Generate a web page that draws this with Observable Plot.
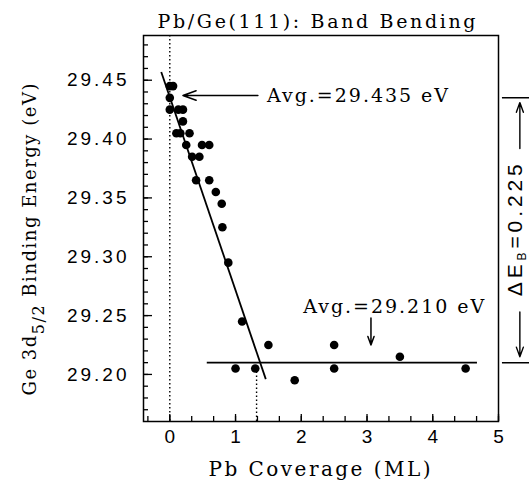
<!DOCTYPE html>
<html><head><meta charset="utf-8">
<script src="https://cdn.jsdelivr.net/npm/d3@7"></script>
<script src="https://cdn.jsdelivr.net/npm/@observablehq/plot@0.6"></script>
<style>
  body { margin: 0; background: #fff; }
  #chart svg { background: #fff; font-family: "DejaVu Serif", serif; }
</style>
</head><body><div id="chart"></div>
<script>
// ---- data ----
const coverage = [0.0, 0.05, 0.0, 0.0, 0.13, 0.2, 0.2, 0.1, 0.16, 0.3,
                  0.25, 0.49, 0.6, 0.34, 0.45, 0.4, 0.6, 0.7, 0.79, 0.8,
                  0.89, 1.1, 1.0, 1.3, 1.5, 1.9, 2.5, 2.5, 3.5, 4.5];
const bindingEnergy = [29.445, 29.445, 29.435, 29.425, 29.425, 29.425, 29.415, 29.405, 29.405, 29.405,
                       29.395, 29.395, 29.395, 29.385, 29.385, 29.365, 29.365, 29.355, 29.345, 29.325,
                       29.295, 29.245, 29.205, 29.205, 29.225, 29.195, 29.225, 29.205, 29.215, 29.205];

// linear fit through the band-bending region and the saturation average
const fitStart = [-0.13, 29.457];
const fitEnd = [1.46, 29.196];
const avgLow = 29.210;
const avgLowSpan = [0.57, 4.68];
const avgHigh = 29.435;
const crossingCoverage = 1.32;

// tick labels
const xTickLabels = [0, 1, 2, 3, 4, 5];
const yTickLabels = [29.20, 29.25, 29.30, 29.35, 29.40, 29.45];
const xMinorTicks = d3.range(-1, 16).map(i => i / 3);
const yMinorTicks = d3.range(2917, 2949).map(i => i / 100);

// texts
const titleText = "Pb/Ge(111): Band Bending";
const xLabel = "Pb Coverage (ML)";
const yLabel = "Ge 3d_{5/2} Binding Energy (eV)";
const noteHigh = "Avg.=29.435 eV";
const noteLow = "Avg.=29.210 eV";
const noteDelta = "ΔE_{B}=0.225";

// annotation anchors
const noteHighArrow = {x1: 1.34, y1: 29.437, x2: 0.2, y2: 29.437};
const noteHighText = {x: 1.48, y: 29.437};
const noteLowArrow = {x1: 3.06, y1: 29.248, x2: 3.06, y2: 29.225};
const noteLowText = {x: 2.03, y: 29.257};
const deltaArrowX = 5.325;
const deltaTextX = 5.25;
const deltaSpan = [5.06, 5.6];
const deltaArrows = [
  {x1: deltaArrowX, y1: 29.392, x2: deltaArrowX, y2: 29.431},
  {x1: deltaArrowX, y1: 29.253, x2: deltaArrowX, y2: 29.215}
];

// styling: target text widths (px) to mimic the monospaced plotter font
const textWidths = new Map([
  [titleText, 318], [xLabel, 222], [yLabel, 312], [noteHigh, 181], [noteLow, 181], [noteDelta, 132]
]);

const points = coverage.map((c, i) => ({c, e: bindingEnergy[i]}));

const chart = Plot.plot({
  width: 529,
  height: 480,
  marginLeft: 143,
  marginRight: 31,
  marginTop: 35,
  marginBottom: 59,
  x: {domain: [-0.4, 5]},
  y: {domain: [29.16, 29.488]},
  marks: [
    Plot.frame({stroke: "black", strokeWidth: 1.5}),
    // inward ticks
    Plot.axisY(yMinorTicks, {anchor: "left", tickSize: 5, dx: 5, tickFormat: () => "", label: null, strokeWidth: 1.3}),
    Plot.axisY(yTickLabels, {anchor: "left", tickSize: 9, dx: 9, tickFormat: () => "", label: null, strokeWidth: 1.3}),
    Plot.axisY(yTickLabels, {anchor: "left", tickSize: 0, tickPadding: 14, tickFormat: d3.format(".2f"),
      fontSize: 19, fontFamily: "Liberation Sans", label: null}),
    Plot.axisX(xMinorTicks, {anchor: "bottom", tickSize: 5, dy: -5, tickFormat: () => "", label: null, strokeWidth: 1.3}),
    Plot.axisX(xTickLabels, {anchor: "bottom", tickSize: 7, dy: -7, tickFormat: () => "", label: null, strokeWidth: 1.3}),
    Plot.axisX(xTickLabels, {anchor: "bottom", tickSize: 0, tickPadding: 8, tickFormat: d3.format("d"),
      fontSize: 19, fontFamily: "Liberation Sans", label: null}),
    // dotted guides
    Plot.ruleX([0], {stroke: "black", strokeWidth: 1.4, strokeDasharray: "1.4,2.6"}),
    Plot.ruleX([crossingCoverage], {y1: 29.16, y2: 29.205, stroke: "black", strokeWidth: 1.4, strokeDasharray: "1.4,2.6"}),
    // fit and average lines
    Plot.link([{x1: fitStart[0], y1: fitStart[1], x2: fitEnd[0], y2: fitEnd[1]}],
      {x1: "x1", y1: "y1", x2: "x2", y2: "y2", stroke: "black", strokeWidth: 1.8}),
    Plot.ruleY([avgLow], {x1: avgLowSpan[0], x2: avgLowSpan[1], stroke: "black", strokeWidth: 1.7}),
    // data
    Plot.dot(points, {x: "c", y: "e", r: 4.3, fill: "black", stroke: "none"}),
    // annotations
    Plot.arrow([noteHighArrow], {x1: "x1", y1: "y1", x2: "x2", y2: "y2", stroke: "black", strokeWidth: 1.5, headLength: 14, headAngle: 40}),
    Plot.text([noteHigh], {x: noteHighText.x, y: noteHighText.y, textAnchor: "start", lineAnchor: "middle", fontSize: 19}),
    Plot.arrow([noteLowArrow], {x1: "x1", y1: "y1", x2: "x2", y2: "y2", stroke: "black", strokeWidth: 1.5, headLength: 11, headAngle: 40}),
    Plot.text([noteLow], {x: noteLowText.x, y: noteLowText.y, textAnchor: "start", lineAnchor: "middle", fontSize: 19}),
    Plot.ruleY([avgHigh, avgLow], {x1: deltaSpan[0], x2: deltaSpan[1], stroke: "black", strokeWidth: 1.5}),
    Plot.arrow(deltaArrows, {x1: "x1", y1: "y1", x2: "x2", y2: "y2", stroke: "black", strokeWidth: 1.4, headLength: 11, headAngle: 40}),
    Plot.text([noteDelta], {x: deltaTextX, y: (avgHigh + avgLow) / 2, rotate: -90, textAnchor: "middle", lineAnchor: "middle",
      fontSize: 21, fontFamily: "Liberation Sans"}),
    // title and axis labels
    Plot.text([titleText], {frameAnchor: "top", dy: -8, dx: -4.5, lineAnchor: "bottom", fontSize: 19}),
    Plot.text([xLabel], {frameAnchor: "bottom", dy: 54, dx: -1.5, lineAnchor: "bottom", fontSize: 20}),
    Plot.text([yLabel], {frameAnchor: "left", dx: -108, dy: 11, rotate: -90, lineAnchor: "bottom", textAnchor: "middle", fontSize: 18})
  ]
});

// wide spacing for numeric y tick labels
chart.querySelectorAll("text").forEach(t => {
  if (/^\d\d\.\d\d$/.test(t.textContent)) t.setAttribute("letter-spacing", "3");
});

// fixed widths (plotter-like spacing)
chart.querySelectorAll("text").forEach(t => {
  const w = textWidths.get(t.textContent);
  if (w) { t.setAttribute("textLength", w); t.setAttribute("lengthAdjust", "spacing"); }
});

// subscripts written as _{...}
const NS = "http://www.w3.org/2000/svg";
chart.querySelectorAll("text").forEach(t => {
  const m = t.textContent.match(/^(.*)_\{(.*?)\}(.*)$/);
  if (!m) return;
  const size = parseFloat(t.getAttribute("font-size")) || 20;
  const isDelta = m[2] === "B";
  const subSize = Math.round(size * (isDelta ? 0.6 : 0.8));
  const shift = Math.round(size * (isDelta ? 0.22 : 0.42));
  t.textContent = "";
  const a = document.createElementNS(NS, "tspan"); a.textContent = m[1];
  const b = document.createElementNS(NS, "tspan"); b.textContent = m[2];
  b.setAttribute("font-size", subSize); b.setAttribute("dy", shift);
  const c = document.createElementNS(NS, "tspan"); c.textContent = m[3]; c.setAttribute("dy", -shift);
  t.append(a, b, c);
});

document.getElementById("chart").append(chart);
</script>
</body></html>
